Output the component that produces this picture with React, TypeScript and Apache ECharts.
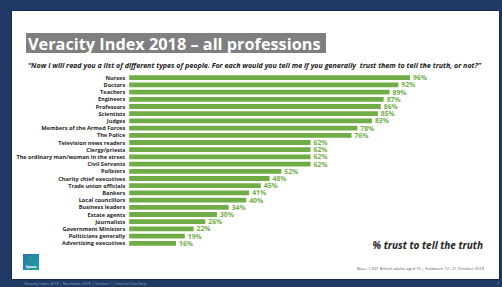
import React, { useEffect, useRef } from "react";
import * as echarts from "echarts";

const categories = [
  "Nurses",
  "Doctors",
  "Teachers",
  "Engineers",
  "Professors",
  "Scientists",
  "Judges",
  "Members of the Armed Forces",
  "The Police",
  "Television news readers",
  "Clergy/priests",
  "The ordinary man/woman in the street",
  "Civil Servants",
  "Pollsters",
  "Charity chief executives",
  "Trade union officials",
  "Bankers",
  "Local councillors",
  "Business leaders",
  "Estate agents",
  "Journalists",
  "Government Ministers",
  "Politicians generally",
  "Advertising executives",
];

const trustValues = [96, 92, 89, 87, 86, 85, 83, 78, 76, 62, 62, 62, 62, 52, 48, 45, 41, 40, 34, 30, 26, 22, 19, 16];

const titleText = "Veracity Index 2018 \u2013 all professions";
const subtitleText =
  "\u201cNow I will read you a list of different types of people. For each would you tell me if you generally  trust them to tell the truth, or not?\u201d";
const measureText = "% trust to tell the truth";
const baseText = "Base: 1,001 British adults aged 15+, fieldwork 12 - 21 October 2018";
const footerText = "Veracity Index 2018 | November 2018 | Version 1 | Internal Use Only";

const FONT = "'Open Sans', 'DejaVu Sans', sans-serif";

export default function App() {
  const ref = useRef<HTMLDivElement>(null);
  useEffect(() => {
    if (!ref.current) return;
    const chart = echarts.init(ref.current, undefined, { renderer: "svg" });
    chart.setOption({
      animation: false,
      backgroundColor: "#1f3864",
      grid: { left: 129.2, width: 292.5, top: 74.1, height: 172.8, containLabel: false },
      xAxis: { type: "value", min: 0, max: 100, show: false },
      yAxis: {
        type: "category",
        inverse: true,
        data: categories,
        axisLine: { show: false },
        axisTick: { show: false },
        splitLine: { show: false },
        axisLabel: {
          interval: 0,
          fontSize: 5.6,
          lineHeight: 6,
          fontWeight: "bold",
          fontFamily: FONT,
          color: "#262626",
          margin: 4,
        },
      },
      series: [
        {
          type: "bar",
          data: trustValues,
          barWidth: 4.8,
          itemStyle: { color: "#70ad47" },
          label: {
            show: true,
            position: "right",
            distance: 3,
            formatter: "{c}%",
            color: "#70ad47",
            fontWeight: "bold",
            fontSize: 6.8,
            lineHeight: 6.5,
            fontFamily: FONT,
          },
        },
      ],
      graphic: [
        {
          type: "rect",
          z: -10,
          shape: { x: 11.5, y: 10.5, width: 488, height: 269 },
          style: { fill: "#ffffff", stroke: "#15294d", lineWidth: 1 },
        },
        {
          type: "rect",
          shape: { x: 26, y: 33, width: 300, height: 20 },
          style: { fill: "#7f7f7f" },
        },
        {
          type: "text",
          x: 28,
          y: 43.5,
          style: {
            text: titleText,
            fill: "#ffffff",
            fontSize: 16.3,
            fontWeight: "bold",
            fontFamily: FONT,
            textVerticalAlign: "middle",
          },
        },
        {
          type: "text",
          x: 28,
          y: 65,
          style: {
            text: subtitleText,
            fill: "#1a1a1a",
            fontSize: 7.15,
            fontWeight: "bold",
            fontStyle: "italic",
            fontFamily: FONT,
            textVerticalAlign: "middle",
          },
        },
        {
          type: "text",
          x: 483,
          y: 245,
          style: {
            text: measureText,
            fill: "#262626",
            fontSize: 10,
            fontWeight: "bold",
            fontStyle: "italic",
            fontFamily: FONT,
            textAlign: "right",
            textVerticalAlign: "middle",
          },
        },
        {
          type: "text",
          x: 484,
          y: 268,
          style: {
            text: baseText,
            fill: "#595959",
            fontSize: 4.1,
            fontFamily: FONT,
            textAlign: "right",
            textVerticalAlign: "middle",
          },
        },
        {
          type: "text",
          x: 24,
          y: 283,
          style: {
            text: footerText,
            fill: "#9aa8c0",
            fontSize: 3.8,
            fontFamily: FONT,
            textVerticalAlign: "middle",
          },
        },
        {
          type: "text",
          x: 498,
          y: 283,
          style: {
            text: "7",
            fill: "#9aa8c0",
            fontSize: 4,
            fontFamily: FONT,
            textAlign: "center",
            textVerticalAlign: "middle",
          },
        },
        {
          type: "rect",
          shape: { x: 23, y: 254, width: 16, height: 16 },
          style: {
            fill: new echarts.graphic.LinearGradient(0, 0, 1, 1, [
              { offset: 0, color: "#2f6fb5" },
              { offset: 1, color: "#19a89c" },
            ]),
          },
        },
        {
          type: "circle",
          shape: { cx: 31, cy: 259, r: 3.2 },
          style: { fill: "#1d9b8e" },
        },
        {
          type: "text",
          x: 31,
          y: 266,
          style: {
            text: "Ipsos",
            fill: "#ffffff",
            fontSize: 4,
            fontWeight: "bold",
            fontFamily: FONT,
            textAlign: "center",
            textVerticalAlign: "middle",
          },
        },
      ],
    });
    return () => chart.dispose();
  }, []);
  return (
    <div
      ref={ref}
      style={{ position: "absolute", left: 0, top: 0, width: 502, height: 287 }}
    />
  );
}
